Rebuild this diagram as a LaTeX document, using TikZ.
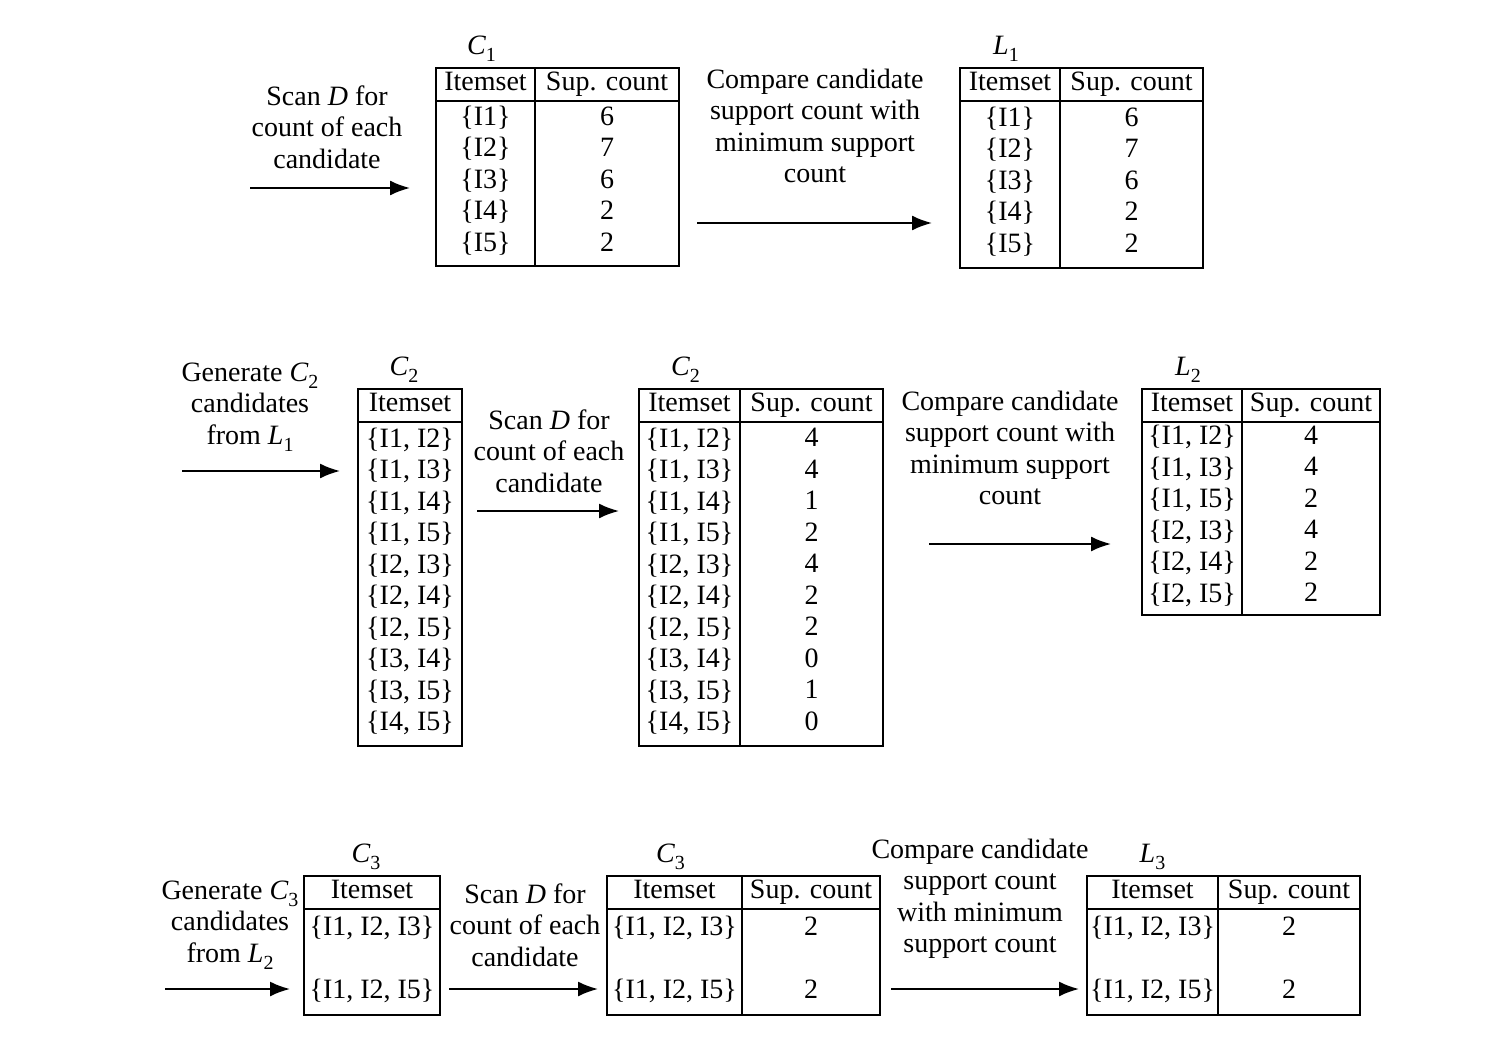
\documentclass[tikz,border=0pt]{standalone}
\usepackage{fontspec}
\setmainfont{Liberation Serif}
\usetikzlibrary{arrows.meta, positioning}
\newcommand{\setname}[2]{\textit{#1}\raisebox{-0.55ex}{\fontsize{10}{10}\selectfont #2}}
\tikzset{
    cell/.style = {
        draw,
        line width=0.9pt,
        inner sep=0pt,
        outer sep=0pt,
        align=center,
        minimum height=16.5pt,
        execute at begin node={\strut},
        execute at end node={\strut}
    },
    title/.style = {
        inner sep=0pt
    },
    note/.style = {
        align=center,
        inner sep=0pt
    },
    line/.style = {
        draw,
        line width=1pt,
        -{Latex[length=10pt, width=7.5pt]}
    }
}
\begin{document}
\begin{tikzpicture}[
    x=0.5pt, y=-0.5pt,
    every node/.style={font=\fontsize{14}{15.75}\selectfont}
]
\useasboundingbox (0,0) rectangle (1492,1048);

% First pass: C1 -> L1
\node [note] (n1) at (327,127) {Scan \textit{D} for\\count of each\\candidate};
\coordinate (a1s) at (250,188);
\coordinate (a1e) at (410,188);
\draw [line] (a1s) -- (a1e);

\node [cell, minimum width=49.5pt, anchor=north west] (C1i) at (436,68) {Itemset};
\node [cell, minimum width=72pt, right=0pt of C1i] (C1s) {Sup. count};
\node [cell, minimum width=49.5pt, minimum height=82.5pt, below=0pt of C1i] (C1a) {\{I1\}\\\{I2\}\\\{I3\}\\\{I4\}\\\{I5\}};
\node [cell, minimum width=72pt, minimum height=82.5pt, below=0pt of C1s] (C1b) {6\\7\\6\\2\\2};
\node [title, above=3pt of C1i, xshift=-2pt] (C1t) {\setname{C}{1}};

\node [note] (n2) at (815,126) {Compare candidate\\support count with\\minimum support\\count};
\coordinate (a2s) at (697,223);
\coordinate (a2e) at (932,223);
\draw [line] (a2s) -- (a2e);

\node [cell, minimum width=50pt, anchor=north west] (L1i) at (960,68) {Itemset};
\node [cell, minimum width=71.5pt, right=0pt of L1i] (L1s) {Sup. count};
\node [cell, minimum width=50pt, minimum height=83.5pt, below=0pt of L1i] (L1a) {\{I1\}\\\{I2\}\\\{I3\}\\\{I4\}\\\{I5\}};
\node [cell, minimum width=71.5pt, minimum height=83.5pt, below=0pt of L1s] (L1b) {6\\7\\6\\2\\2};
\node [title, above=3pt of L1i, xshift=-2pt] (L1t) {\setname{L}{1}};

% Second pass: C2 -> C2 counted -> L2
\node [note] (n3) at (250,407) {Generate \setname{C}{2}\\candidates\\from \setname{L}{1}};
\coordinate (a3s) at (182,471);
\coordinate (a3e) at (340,471);
\draw [line] (a3s) -- (a3e);

\node [cell, minimum width=52pt, anchor=north west] (C2i) at (358,389) {Itemset};
\node [cell, minimum width=52pt, minimum height=162pt, below=0pt of C2i] (C2a) {\{I1, I2\}\\\{I1, I3\}\\\{I1, I4\}\\\{I1, I5\}\\\{I2, I3\}\\\{I2, I4\}\\\{I2, I5\}\\\{I3, I4\}\\\{I3, I5\}\\\{I4, I5\}};
\node [title, above=3pt of C2i, xshift=-3pt] (C2t) {\setname{C}{2}};

\node [note] (n4) at (549,451) {Scan \textit{D} for\\count of each\\candidate};
\coordinate (a4s) at (477,511);
\coordinate (a4e) at (619,511);
\draw [line] (a4s) -- (a4e);

\node [cell, minimum width=50.5pt, anchor=north west] (D2i) at (639,389) {Itemset};
\node [cell, minimum width=71.5pt, right=0pt of D2i] (D2s) {Sup. count};
\node [cell, minimum width=50.5pt, minimum height=162pt, below=0pt of D2i] (D2a) {\{I1, I2\}\\\{I1, I3\}\\\{I1, I4\}\\\{I1, I5\}\\\{I2, I3\}\\\{I2, I4\}\\\{I2, I5\}\\\{I3, I4\}\\\{I3, I5\}\\\{I4, I5\}};
\node [cell, minimum width=71.5pt, minimum height=162pt, below=0pt of D2s] (D2b) {4\\4\\1\\2\\4\\2\\2\\0\\1\\0};
\node [title, above=3pt of D2i, xshift=-2pt] (D2t) {\setname{C}{2}};

\node [note] (n5) at (1010,448) {Compare candidate\\support count with\\minimum support\\count};
\coordinate (a5s) at (929,544);
\coordinate (a5e) at (1111,544);
\draw [line] (a5s) -- (a5e);

\node [cell, minimum width=50pt, anchor=north west] (L2i) at (1142,389) {Itemset};
\node [cell, minimum width=69pt, right=0pt of L2i] (L2s) {Sup. count};
\node [cell, minimum width=50pt, minimum height=96.5pt, below=0pt of L2i] (L2a) {\{I1, I2\}\\\{I1, I3\}\\\{I1, I5\}\\\{I2, I3\}\\\{I2, I4\}\\\{I2, I5\}};
\node [cell, minimum width=69pt, minimum height=96.5pt, below=0pt of L2s] (L2b) {4\\4\\2\\4\\2\\2};
\node [title, above=3pt of L2i, xshift=-2pt] (L2t) {\setname{L}{2}};

% Third pass: C3 -> C3 counted -> L3
\node [note] (n6) at (230,925) {Generate \setname{C}{3}\\candidates\\from \setname{L}{2}};
\coordinate (a6s) at (165,989);
\coordinate (a6e) at (290,989);
\draw [line] (a6s) -- (a6e);

\node [cell, minimum width=68pt, anchor=north west] (C3i) at (304,876) {Itemset};
\node [cell, minimum width=68pt, minimum height=53pt, below=0pt of C3i] (C3a) {\{I1, I2, I3\}\\[15.75pt]\{I1, I2, I5\}};
\node [title, above=3pt of C3i, xshift=-3pt] (C3t) {\setname{C}{3}};

\node [note] (n7) at (525,925) {Scan \textit{D} for\\count of each\\candidate};
\coordinate (a7s) at (449,989);
\coordinate (a7e) at (598,989);
\draw [line] (a7s) -- (a7e);

\node [cell, minimum width=67.5pt, anchor=north west] (D3i) at (607,876) {Itemset};
\node [cell, minimum width=69pt, right=0pt of D3i] (D3s) {Sup. count};
\node [cell, minimum width=67.5pt, minimum height=53pt, below=0pt of D3i] (D3a) {\{I1, I2, I3\}\\[15.75pt]\{I1, I2, I5\}};
\node [cell, minimum width=69pt, minimum height=53pt, below=0pt of D3s] (D3b) {2\\[15.75pt]2};
\node [title, above=3pt of D3i, xshift=-2pt] (D3t) {\setname{C}{3}};

\node [note] (n8) at (980,899) {Compare candidate\\support count\\with minimum\\support count};
\coordinate (a8s) at (891,989);
\coordinate (a8e) at (1079,989);
\draw [line] (a8s) -- (a8e);

\node [cell, minimum width=65.5pt, anchor=north west] (L3i) at (1087,876) {Itemset};
\node [cell, minimum width=71pt, right=0pt of L3i] (L3s) {Sup. count};
\node [cell, minimum width=65.5pt, minimum height=53pt, below=0pt of L3i] (L3a) {\{I1, I2, I3\}\\[15.75pt]\{I1, I2, I5\}};
\node [cell, minimum width=71pt, minimum height=53pt, below=0pt of L3s] (L3b) {2\\[15.75pt]2};
\node [title, above=3pt of L3i] (L3t) {\setname{L}{3}};

\end{tikzpicture}
\end{document}
